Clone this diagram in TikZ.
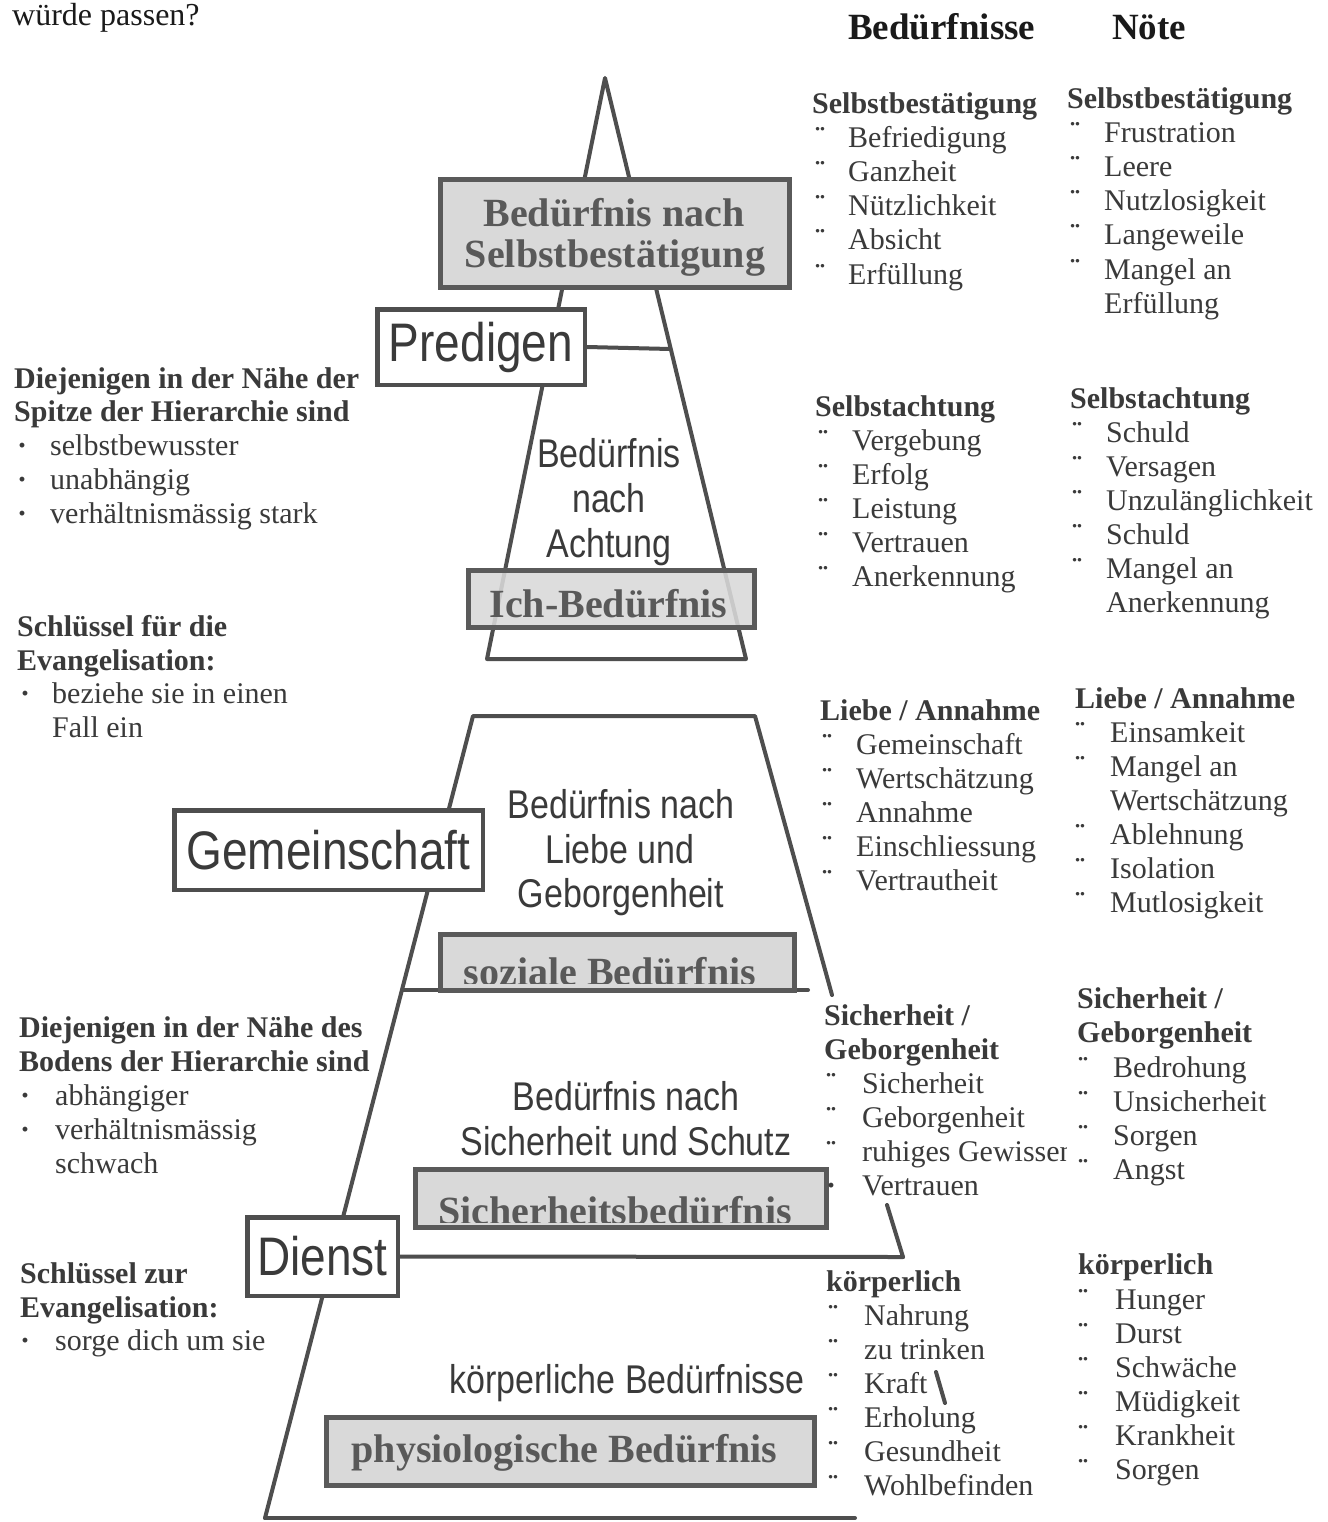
\documentclass[tikz,border=0pt]{standalone}
\usepackage{graphicx}
\usepackage{fontspec}
\setmainfont{Liberation Serif}
\newfontfamily\hsans{Liberation Sans}
\definecolor{scol}{HTML}{3A3A3A}
\definecolor{ink}{HTML}{1A1A1A}
\definecolor{pyrc}{HTML}{4E4E4E}
\definecolor{gfill}{HTML}{D9D9D9}
\definecolor{gline}{HTML}{5A5A5A}
\definecolor{gtext}{HTML}{595959}
\newcommand\tall[1]{\scalebox{1}[1.18]{#1}}
\newcommand\mklist[5]{%
  \foreach \bul/\txt [count=\i from 0] in {#5}{%
    \node[scan] (#1-\i) at (#3,{#4+34*\i}) {\txt};
    \ifcase\bul\or
      \node[scan] (#1-m\i) at (#2,{#4+34*\i}) {\bfseries ¨};
    \or
      \node[scan] (#1-m\i) at (#2,{#4+34*\i}) {\bfseries ·};
    \fi
  }}
\begin{document}
\begin{tikzpicture}[x=1pt,y=-1pt,
  pyr/.style={draw=pyrc, line width=4pt, line cap=round, line join=round},
  wbox/.style={draw=pyrc, line width=4.5pt, fill=white, inner sep=0, font=\hsans\fontsize{46}{50}\selectfont, text=scol},
  gbox/.style={draw=gline, line width=5pt, fill=gfill, inner sep=0},
  gtxt/.style={font=\bfseries\fontsize{40}{44}\selectfont, text=gtext, anchor=base, inner sep=0},
  lab/.style={font=\hsans\fontsize{34}{40}\selectfont, text=scol, anchor=base, inner sep=0},
  scan/.style={font=\fontsize{30}{34}\selectfont, text=scol, anchor=base west, inner sep=0},
  scanh/.style={scan, font=\bfseries\fontsize{30}{34}\selectfont},
  hdr/.style={font=\bfseries\fontsize{37}{40}\selectfont, text=ink, anchor=base west, inner sep=0},
  qtxt/.style={font=\fontsize{32}{36}\selectfont, text=ink, anchor=base west, inner sep=0}]
\fill[white] (0,0) rectangle (1327,1522);
\path[use as bounding box] (0,0) rectangle (1327,1522);

% ---------- pyramid outline ----------
\coordinate (A) at (605,78);
\coordinate (TL) at (487,659);
\coordinate (TR) at (746,659);
\coordinate (prR) at (670,349);
\coordinate (M1) at (473,716);
\coordinate (M2) at (755,716);
\coordinate (M3) at (832,995);
\coordinate (Bot) at (265,1518);
\coordinate (BotR) at (855,1518);
\coordinate (sozL) at (402,990);
\coordinate (sozR) at (808,990);
\coordinate (dRt) at (887,1205);
\coordinate (dR) at (903,1257);
\coordinate (kA) at (936,1372);
\coordinate (kB) at (945,1403);

\draw[pyr] (TL) -- (A) -- (TR) -- cycle;
\draw[pyr] (Bot) -- (M1) -- (M2) -- (M3);
\draw[pyr] (sozL) -- (sozR);
\draw[pyr] (dRt) -- (dR);
\draw[pyr] (kA) -- (kB);
\draw[pyr] (Bot) -- (BotR);

% ---------- white boxed labels ----------
\node[wbox, minimum width=207.5, minimum height=75.5] (pred) at (481,347) {\tall{Predigen}};
\node[wbox, minimum width=308.5, minimum height=79.5] (gem) at (328.5,850) {\tall{Gemeinschaft}};
\node[wbox, minimum width=150.5, minimum height=78.5] (dienst) at (322.5,1256.5) {\tall{Dienst}};
\draw[pyr] (pred.east) -- (prR);
\draw[pyr] (dienst.east) -- (dR);

% ---------- pyramid level labels ----------
\node[lab] (ach1) at (609,467) {\tall{Bedürfnis}};
\node[lab] (ach2) at (609,512) {\tall{nach}};
\node[lab] (ach3) at (609,557) {\tall{Achtung}};
\node[lab] (lie1) at (621,818) {\tall{Bedürfnis nach}};
\node[lab] (lie2) at (620,863) {\tall{Liebe und}};
\node[lab] (lie3) at (621,907) {\tall{Geborgenheit}};
\node[lab] (sic1) at (626,1110) {\tall{Bedürfnis nach}};
\node[lab] (sic2) at (626,1155) {\tall{Sicherheit und Schutz}};
\node[lab] (koe) at (627,1393) {\tall{körperliche Bedürfnisse}};

% ---------- grey boxes ----------
\node[gbox, minimum width=349, minimum height=108] (g1) at (615,233.5) {};
\node[gbox, fill opacity=0.88, minimum width=286, minimum height=57] (g2) at (611.5,599) {};
\node[gbox, minimum width=354, minimum height=56] (g3) at (617.5,962.5) {};
\node[gbox, minimum width=411, minimum height=58] (g4) at (621,1198.5) {};
\node[gbox, minimum width=488, minimum height=68] (g5) at (570.5,1451.5) {};

\node[gtxt] (g1a) at (614,227) {Bedürfnis nach};
\begin{scope}
  \clip (441,180) rectangle (789,276);
  \node[gtxt] (g1b) at (615,268) {Selbstbestätigung};
\end{scope}
\node[gtxt] (g2a) at (608.5,617) {Ich-Bedürfnis};
\begin{scope}
  \clip (443,937) rectangle (792,983);
  \node[gtxt] (g3a) at (610,985) {soziale Bedürfnis};
\end{scope}
\begin{scope}
  \clip (418,1172) rectangle (825,1222);
  \node[gtxt] (g4a) at (615,1224) {Sicherheitsbedürfnis};
\end{scope}
\node[gtxt] (g5a) at (564.5,1462) {physiologische Bedürfnis};

% ---------- top texts ----------
\node[qtxt] (q) at (12,26) {würde passen?};
\node[hdr] (hB) at (848,40) {Bedürfnisse};
\node[hdr] (hN) at (1112,40) {Nöte};

% ---------- Bedürfnisse column ----------
\node[scanh] (hb1) at (812,114) {Selbstbestätigung};
\mklist{b1}{815}{848}{148}{1/Befriedigung,1/Ganzheit,1/Nützlichkeit,1/Absicht,1/Erfüllung}
\node[scanh] (hb2) at (815,416) {Selbstachtung};
\mklist{b2}{818}{852}{450}{1/Vergebung,1/Erfolg,1/Leistung,1/Vertrauen,1/Anerkennung}
\node[scanh] (hb3) at (820,720) {Liebe / Annahme};
\mklist{b3}{822}{856}{754}{1/Gemeinschaft,1/Wertschätzung,1/Annahme,1/Einschliessung,1/Vertrautheit}
\node[scanh] (hb4) at (824,1025) {Sicherheit /};
\node[scanh] (hb4b) at (824,1059) {Geborgenheit};
\begin{scope}
  \clip (800,1062) rectangle (1066,1210);
  \mklist{b4}{826}{862}{1093}{1/Sicherheit,1/Geborgenheit,1/ruhiges Gewissen,2/Vertrauen}
\end{scope}
\node[scanh] (hb5) at (826,1291) {körperlich};
\mklist{b5}{828}{864}{1325}{1/Nahrung,1/zu trinken,1/Kraft,1/Erholung,1/Gesundheit,1/Wohlbefinden}

% ---------- Nöte column ----------
\node[scanh] (hn1) at (1067,109) {Selbstbestätigung};
\mklist{n1}{1070}{1104}{143}{1/Frustration,1/Leere,1/Nutzlosigkeit,1/Langeweile,1/Mangel an,0/Erfüllung}
\node[scanh] (hn2) at (1070,408) {Selbstachtung};
\mklist{n2}{1072}{1106}{442}{1/Schuld,1/Versagen,1/Unzulänglichkeit,1/Schuld,1/Mangel an,0/Anerkennung}
\node[scanh] (hn3) at (1075,708) {Liebe / Annahme};
\mklist{n3}{1075}{1110}{742}{1/Einsamkeit,1/Mangel an,0/Wertschätzung,1/Ablehnung,1/Isolation,1/Mutlosigkeit}
\node[scanh] (hn4) at (1077,1008) {Sicherheit /};
\node[scanh] (hn4b) at (1077,1042) {Geborgenheit};
\mklist{n4}{1078}{1113}{1077}{1/Bedrohung,1/Unsicherheit,1/Sorgen,1/Angst}
\node[scanh] (hn5) at (1078,1274) {körperlich};
\mklist{n5}{1078}{1115}{1309}{1/Hunger,1/Durst,1/Schwäche,1/Müdigkeit,1/Krankheit,1/Sorgen}

% ---------- left column ----------
\node[scanh] (l1a) at (14,388) {Diejenigen in der Nähe der};
\node[scanh] (l1b) at (14,421) {Spitze der Hierarchie sind};
\mklist{l1}{17}{50}{455}{2/selbstbewusster,2/unabhängig,2/verhältnismässig stark}
\node[scanh] (l2a) at (17,636) {Schlüssel für die};
\node[scanh] (l2b) at (17,670) {Evangelisation:};
\mklist{l2}{20}{52}{703}{2/beziehe sie in einen,0/Fall ein}
\node[scanh] (l3a) at (19,1037) {Diejenigen in der Nähe des};
\node[scanh] (l3b) at (19,1071) {Bodens der Hierarchie sind};
\mklist{l3}{20}{55}{1105}{2/abhängiger,2/verhältnismässig,0/schwach}
\node[scanh] (l4a) at (20,1283) {Schlüssel zur};
\node[scanh] (l4b) at (20,1317) {Evangelisation:};
\mklist{l4}{20}{55}{1350}{2/sorge dich um sie}
\end{tikzpicture}
\end{document}
